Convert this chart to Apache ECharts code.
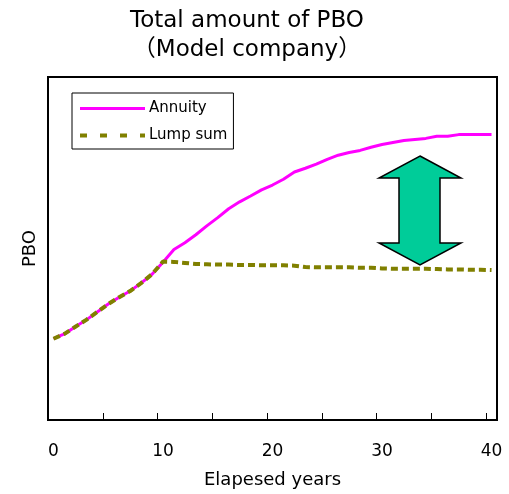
<!DOCTYPE html>
<html>
<head>
<meta charset="utf-8">
<script src="https://cdn.jsdelivr.net/npm/echarts@6/dist/echarts.min.js"></script>
<style>
html,body{margin:0;padding:0;background:#fff;}
#chart{width:509px;height:494px;}
</style>
</head>
<body>
<div id="chart"></div>
<script>
// Elapsed years (categories)
var years = ['0','1','2','3','4','5','6','7','8','9','10','11','12','13','14','15','16','17','18','19','20',
             '21','22','23','24','25','26','27','28','29','30','31','32','33','34','35','36','37','38','39','40'];
// PBO (relative units)
var annuity = [23.7,25.1,27.2,29.2,31.5,33.8,35.8,37.6,39.9,42.5,46.0,
               49.7,51.7,54.0,56.6,59.0,61.6,63.6,65.3,67.1,68.5,
               70.2,72.3,73.4,74.6,76.0,77.2,78.0,78.6,79.5,80.3,
               80.9,81.5,81.8,82.1,82.7,82.7,83.2,83.2,83.2,83.2];
var lumpSum = [23.7,25.1,27.2,29.2,31.5,33.8,35.8,37.6,39.9,42.5,46.2,
               46.1,45.8,45.5,45.4,45.3,45.3,45.2,45.2,45.1,45.1,
               45.1,45.0,44.6,44.5,44.5,44.5,44.5,44.4,44.4,44.2,
               44.1,44.1,44.1,44.1,44.0,43.9,43.9,43.8,43.8,43.7];
var seriesNames = ['Annuity', 'Lump sum'];
var titleLines = ['Total amount of PBO', '（Model company）'];
var xName = 'Elapesed years';
var yName = 'PBO';

var FONT = '"DejaVu Sans", "Noto Sans CJK JP", sans-serif';
var chart = echarts.init(document.getElementById('chart'));
chart.setOption({
  animation: false,
  backgroundColor: '#fff',
  title: {
    text: titleLines.join('\n'),
    left: 247,
    top: 7,
    padding: 0,
    textAlign: 'center',
    textStyle: {fontFamily: FONT, fontSize: 23, fontWeight: 'normal', color: '#000', lineHeight: 29}
  },
  legend: {
    data: [
      {name: seriesNames[0], lineStyle: {color: '#FF00FF', width: 3, type: 'solid'}},
      {name: seriesNames[1], lineStyle: {color: '#808000', width: 4, type: [7, 13]}}
    ],
    orient: 'vertical',
    left: 72,
    top: 93,
    padding: [8, 6, 6, 6],
    itemWidth: 65,
    itemHeight: 14,
    itemGap: 12,
    borderColor: '#000',
    borderWidth: 1,
    backgroundColor: '#fff',
    itemStyle: {opacity: 0},
    textStyle: {fontFamily: FONT, fontSize: 15, color: '#000', padding: [0, 0, 0, -1]}
  },
  grid: {
    left: 48, right: 12, top: 77, bottom: 71,
    show: true, borderColor: '#000', borderWidth: 2, backgroundColor: 'transparent'
  },
  xAxis: {
    type: 'category',
    data: years,
    boundaryGap: true,
    name: xName,
    nameLocation: 'middle',
    nameGap: 51,
    nameTextStyle: {fontFamily: FONT, fontSize: 18, color: '#000'},
    axisLine: {show: true, lineStyle: {color: '#000', width: 2}},
    axisTick: {show: true, inside: true, length: 7, interval: 4, lineStyle: {color: '#000', width: 1}},
    axisLabel: {interval: 9, margin: 23, fontFamily: FONT, fontSize: 17, color: '#000'},
    splitLine: {show: false}
  },
  yAxis: {
    type: 'value',
    min: 0, max: 100,
    name: yName,
    nameLocation: 'middle',
    nameGap: 9,
    nameTextStyle: {fontFamily: FONT, fontSize: 18, color: '#000'},
    axisLine: {show: true, lineStyle: {color: '#000', width: 2}},
    axisTick: {show: false},
    axisLabel: {show: false},
    splitLine: {show: false}
  },
  series: [
    {
      name: seriesNames[0], type: 'line', data: annuity, symbol: 'none', smooth: false,
      lineStyle: {color: '#FF00FF', width: 3},
      itemStyle: {color: '#FF00FF'}
    },
    {
      name: seriesNames[1], type: 'line', data: lumpSum, symbol: 'none', smooth: false,
      lineStyle: {color: '#808000', width: 4, type: [7, 4]},
      itemStyle: {color: '#808000'}
    }
  ],
  graphic: [
    {
      type: 'polygon',
      z: 10,
      shape: {points: [[420,156],[461,178],[440,178],[440,243],[461,243],[420,265],[379,243],[399,243],[399,178],[379,178]]},
      style: {fill: '#00CC99', stroke: '#000', lineWidth: 1.5}
    }
  ]
});
</script>
</body>
</html>
